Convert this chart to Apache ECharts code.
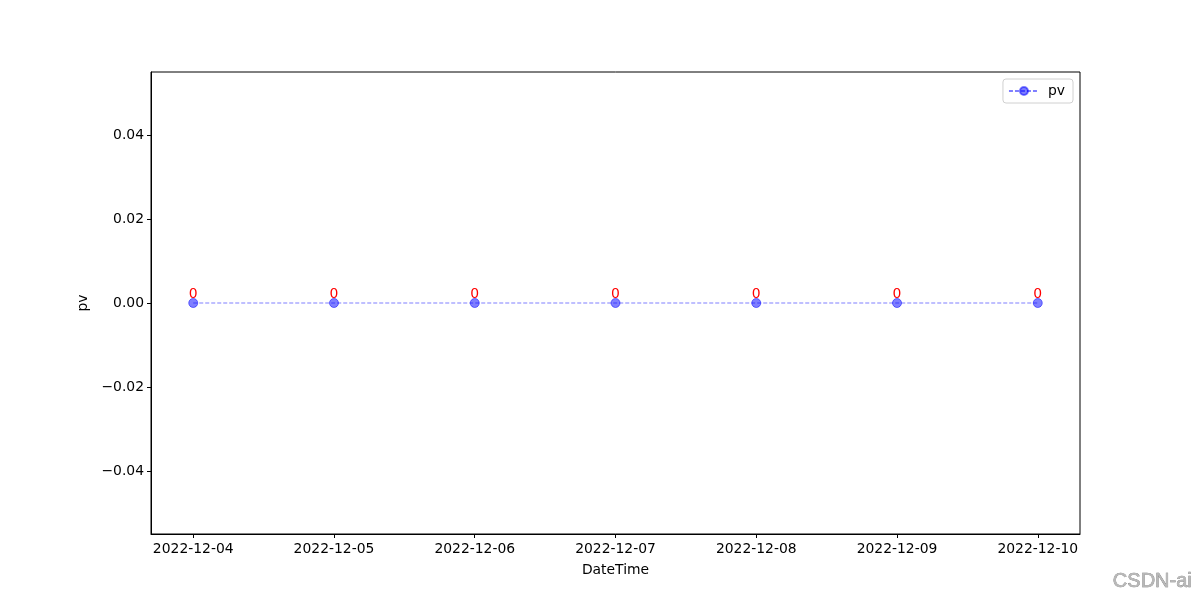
<!DOCTYPE html>
<html>
<head>
<meta charset="utf-8">
<script src="https://cdn.jsdelivr.net/npm/echarts@6/dist/echarts.min.js"></script>
<style>html,body{margin:0;padding:0;background:#fff;}#c{width:1200px;height:600px;}</style>
</head>
<body>
<div id="c"></div>
<script>
var dates = ['2022-12-04','2022-12-05','2022-12-06','2022-12-07','2022-12-08','2022-12-09','2022-12-10'];
var pv = [0, 0, 0, 0, 0, 0, 0];
var yTicks = [-0.04, -0.02, 0.00, 0.02, 0.04];

var font = 'DejaVu Sans';
var fs = 13.9;
var xIdx = dates.map(function(d, i){ return i; });
var chart = echarts.init(document.getElementById('c'));
chart.setOption({
  animation: false,
  textStyle: { fontFamily: font },
  grid: { left: 151, right: 120, top: 72, bottom: 66, show: true, borderColor: '#000', borderWidth: 1, backgroundColor: 'transparent' },
  legend: {
    right: 127, top: 79, orient: 'vertical',
    padding: [5, 8, 5, 5],
    borderColor: '#d0d0d0', borderWidth: 1, borderRadius: 3,
    itemWidth: 30, itemHeight: 10, itemGap: 5,
    textStyle: { fontFamily: font, fontSize: fs, color: '#000', padding: [0, 0, 0, 4] },
    data: ['pv']
  },
  xAxis: {
    type: 'value', min: -0.3, max: 6.3,
    name: 'DateTime', nameLocation: 'middle', nameGap: 29,
    nameTextStyle: { fontFamily: font, fontSize: fs, color: '#000' },
    splitLine: { show: false },
    axisLine: { show: true, onZero: false, lineStyle: { color: '#000', width: 1 } },
    axisTick: { show: true, inside: false, length: 4, customValues: xIdx, lineStyle: { color: '#000' } },
    axisLabel: { customValues: xIdx, fontFamily: font, fontSize: fs, color: '#000', margin: 8,
      formatter: function(v){ return dates[Math.round(v)] || ''; } }
  },
  yAxis: {
    type: 'value', min: -0.055, max: 0.055,
    name: 'pv', nameLocation: 'middle', nameGap: 56, nameRotate: 90,
    nameTextStyle: { fontFamily: font, fontSize: fs, color: '#000' },
    splitLine: { show: false },
    axisLine: { show: true, onZero: false, lineStyle: { color: '#000', width: 1 } },
    axisTick: { show: true, inside: false, length: 4, customValues: yTicks, lineStyle: { color: '#000' } },
    axisLabel: { customValues: yTicks, fontFamily: font, fontSize: fs, color: '#000', margin: 7,
      formatter: function(v){ var s = Math.abs(v).toFixed(2); return (v < -1e-9 ? '\u2212' : '') + s; } }
  },
  series: [{
    name: 'pv', type: 'line',
    data: pv.map(function(v, i){ return [i, v]; }),
    symbol: 'circle', symbolSize: 9,
    itemStyle: { color: 'rgba(0,0,255,0.5)', borderColor: 'rgba(0,0,255,0.5)', borderWidth: 1 },
    lineStyle: { color: 'rgba(0,0,255,0.5)', width: 1.2, type: [4, 2] },
    label: { show: true, position: 'top', distance: -3, color: '#ff0000', fontFamily: font, fontSize: fs,
      formatter: function(p){ return String(p.value[1]); } }
  }],
  graphic: [{
    type: 'text', right: 8, bottom: 8,
    style: { text: 'CSDN-ai', font: '20px "Liberation Sans"', fill: '#b8b8b8', stroke: '#6a6a6a', lineWidth: 0.5 }
  }]
});
</script>
</body>
</html>
